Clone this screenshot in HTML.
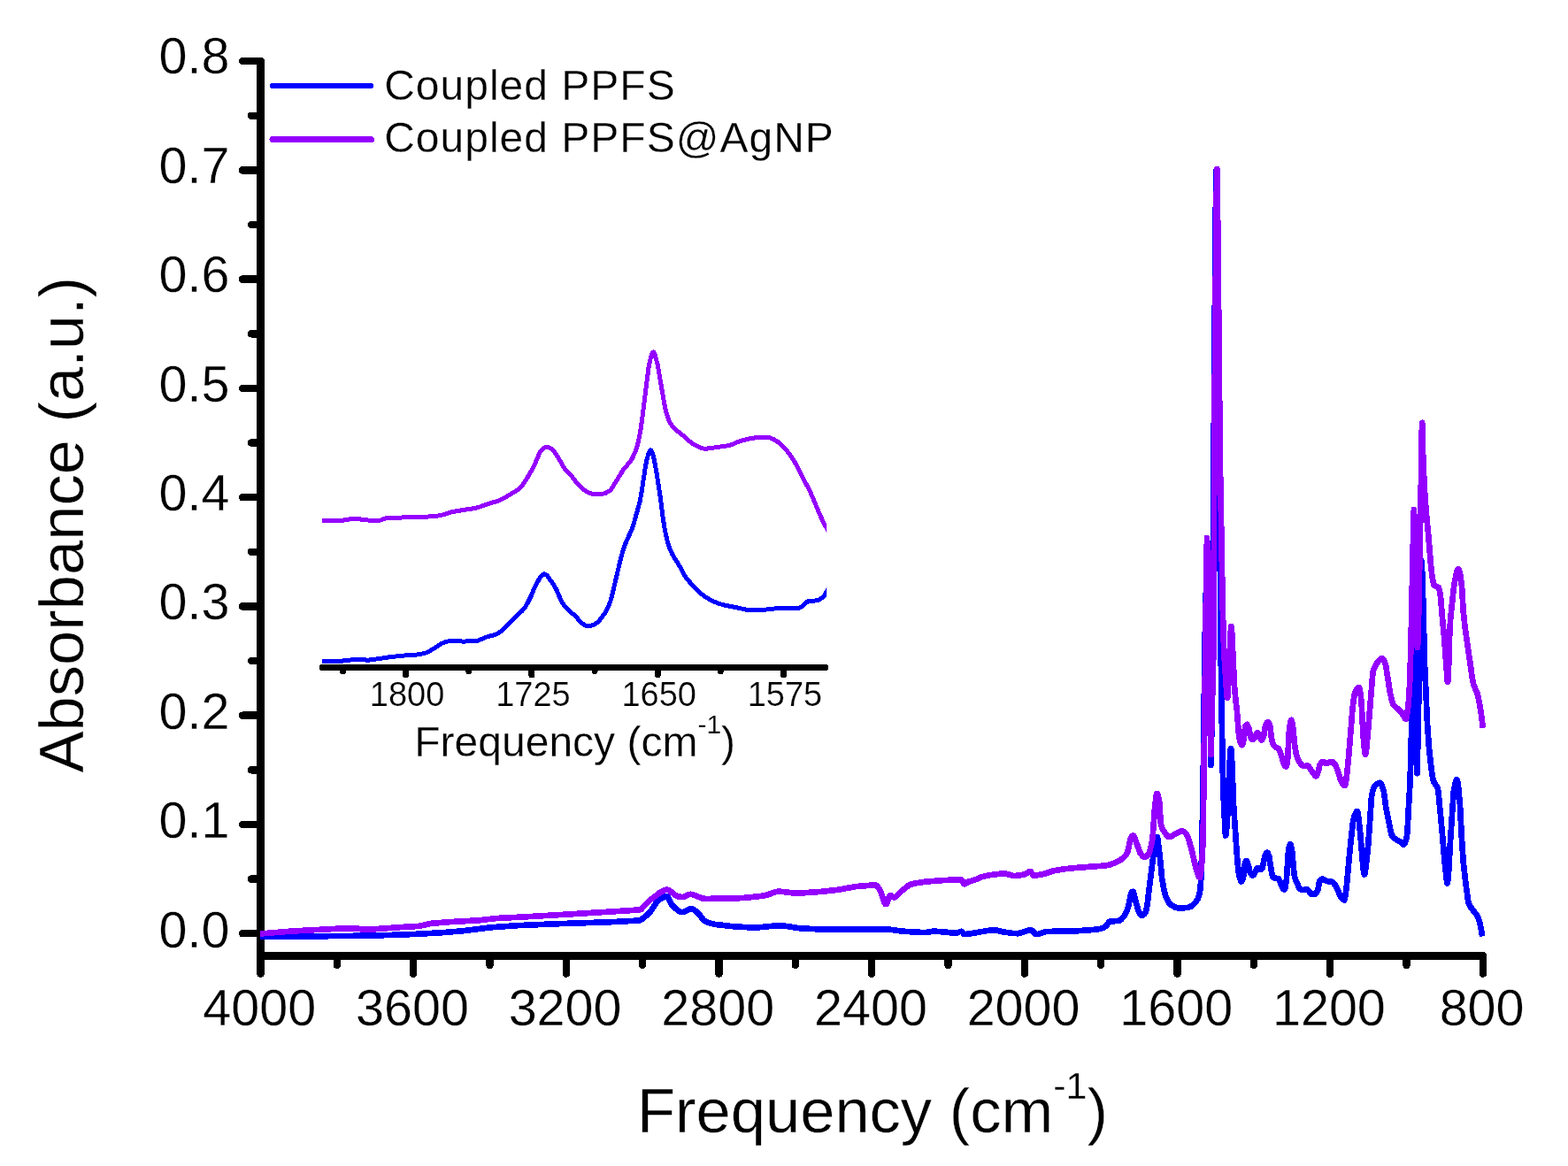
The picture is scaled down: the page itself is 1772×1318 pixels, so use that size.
<!DOCTYPE html>
<html lang="en"><head><meta charset="utf-8"><title>FTIR absorbance spectra</title>
<style>html,body{margin:0;padding:0;background:#fff}body{width:1772px;height:1318px;overflow:hidden}svg{display:block}text{font-family:"Liberation Sans", sans-serif;fill:#000;stroke:#fff;stroke-linejoin:round}</style></head><body>
<svg width="1772" height="1318" viewBox="0 0 1772 1318" role="img" aria-label="FTIR absorbance spectra of coupled PPFS and coupled PPFS@AgNP">
<rect width="1772" height="1318" fill="#fff"/>
<g stroke="#000" stroke-linecap="round" fill="none" shape-rendering="crispEdges">
<line x1="294.50" y1="69.12" x2="294.50" y2="1100.10" stroke-width="9"/>
<line x1="294.50" y1="1080.50" x2="1675.81" y2="1080.50" stroke-width="9"/>
<line x1="274.00" y1="1055.20" x2="294.50" y2="1055.20" stroke-width="8.5"/>
<line x1="284.00" y1="993.57" x2="294.50" y2="993.57" stroke-width="8.5"/>
<line x1="274.00" y1="931.94" x2="294.50" y2="931.94" stroke-width="8.5"/>
<line x1="284.00" y1="870.31" x2="294.50" y2="870.31" stroke-width="8.5"/>
<line x1="274.00" y1="808.68" x2="294.50" y2="808.68" stroke-width="8.5"/>
<line x1="284.00" y1="747.05" x2="294.50" y2="747.05" stroke-width="8.5"/>
<line x1="274.00" y1="685.42" x2="294.50" y2="685.42" stroke-width="8.5"/>
<line x1="284.00" y1="623.79" x2="294.50" y2="623.79" stroke-width="8.5"/>
<line x1="274.00" y1="562.16" x2="294.50" y2="562.16" stroke-width="8.5"/>
<line x1="284.00" y1="500.53" x2="294.50" y2="500.53" stroke-width="8.5"/>
<line x1="274.00" y1="438.90" x2="294.50" y2="438.90" stroke-width="8.5"/>
<line x1="284.00" y1="377.27" x2="294.50" y2="377.27" stroke-width="8.5"/>
<line x1="274.00" y1="315.64" x2="294.50" y2="315.64" stroke-width="8.5"/>
<line x1="284.00" y1="254.01" x2="294.50" y2="254.01" stroke-width="8.5"/>
<line x1="274.00" y1="192.38" x2="294.50" y2="192.38" stroke-width="8.5"/>
<line x1="284.00" y1="130.75" x2="294.50" y2="130.75" stroke-width="8.5"/>
<line x1="274.00" y1="69.12" x2="294.50" y2="69.12" stroke-width="8.5"/>
<line x1="294.50" y1="1080.50" x2="294.50" y2="1100.60" stroke-width="8.5"/>
<line x1="380.83" y1="1080.50" x2="380.83" y2="1091.00" stroke-width="8.5"/>
<line x1="467.16" y1="1080.50" x2="467.16" y2="1100.60" stroke-width="8.5"/>
<line x1="553.50" y1="1080.50" x2="553.50" y2="1091.00" stroke-width="8.5"/>
<line x1="639.83" y1="1080.50" x2="639.83" y2="1100.60" stroke-width="8.5"/>
<line x1="726.16" y1="1080.50" x2="726.16" y2="1091.00" stroke-width="8.5"/>
<line x1="812.49" y1="1080.50" x2="812.49" y2="1100.60" stroke-width="8.5"/>
<line x1="898.82" y1="1080.50" x2="898.82" y2="1091.00" stroke-width="8.5"/>
<line x1="985.16" y1="1080.50" x2="985.16" y2="1100.60" stroke-width="8.5"/>
<line x1="1071.49" y1="1080.50" x2="1071.49" y2="1091.00" stroke-width="8.5"/>
<line x1="1157.82" y1="1080.50" x2="1157.82" y2="1100.60" stroke-width="8.5"/>
<line x1="1244.15" y1="1080.50" x2="1244.15" y2="1091.00" stroke-width="8.5"/>
<line x1="1330.48" y1="1080.50" x2="1330.48" y2="1100.60" stroke-width="8.5"/>
<line x1="1416.82" y1="1080.50" x2="1416.82" y2="1091.00" stroke-width="8.5"/>
<line x1="1503.15" y1="1080.50" x2="1503.15" y2="1100.60" stroke-width="8.5"/>
<line x1="1589.48" y1="1080.50" x2="1589.48" y2="1091.00" stroke-width="8.5"/>
<line x1="1675.81" y1="1080.50" x2="1675.81" y2="1100.60" stroke-width="8.5"/>
</g>
<defs><clipPath id="plotclip"><rect x="293.8" y="0" width="1396.2" height="1318"/></clipPath><clipPath id="insetclip"><rect x="364.0" y="0" width="570.2" height="1318"/></clipPath></defs>
<g fill="none" stroke-linejoin="round" stroke-linecap="butt" shape-rendering="crispEdges">
<path d="M293.8,1059.0 L421.6,1057.6 L467.8,1056.0 L500.8,1054.1 L524.8,1052.1 L553.6,1048.4 L584.2,1046.2 L627.4,1044.3 L688.7,1042.3 L714.5,1040.9 L721.7,1040.7 L724.1,1039.8 L727.7,1037.4 L734.3,1031.3 L737.9,1026.1 L742.1,1019.6 L743.9,1017.7 L748.7,1014.7 L751.7,1013.5 L753.5,1013.3 L754.1,1013.5 L755.3,1014.9 L758.9,1022.2 L760.1,1023.8 L765.5,1028.6 L768.5,1030.5 L770.9,1031.1 L772.7,1030.9 L775.7,1029.6 L779.3,1027.7 L781.4,1027.3 L782.9,1027.6 L785.3,1029.1 L790.1,1033.5 L794.9,1039.8 L796.7,1041.3 L802.1,1043.5 L808.1,1044.9 L827.3,1047.1 L844.7,1048.2 L857.9,1048.3 L870.5,1047.0 L879.5,1046.3 L886.1,1046.6 L904.1,1049.3 L931.1,1050.7 L948.5,1050.8 L970.7,1050.2 L1002.5,1050.3 L1011.5,1051.5 L1020.5,1052.7 L1040.3,1053.9 L1047.5,1053.9 L1054.7,1052.7 L1061.9,1053.0 L1078.1,1054.6 L1081.7,1054.6 L1085.3,1052.9 L1086.5,1052.8 L1087.7,1053.9 L1089.5,1055.9 L1091.3,1056.0 L1097.9,1055.1 L1115.9,1052.0 L1123.1,1051.3 L1126.1,1051.5 L1134.5,1053.6 L1145.3,1055.0 L1150.1,1055.2 L1153.7,1054.3 L1162.7,1051.6 L1165.3,1051.3 L1166.3,1051.7 L1169.9,1055.5 L1171.1,1056.1 L1174.1,1055.7 L1181.3,1053.2 L1186.1,1052.9 L1214.3,1052.5 L1236.5,1050.9 L1243.7,1049.8 L1247.3,1048.5 L1249.7,1047.1 L1253.3,1042.2 L1254.2,1041.7 L1264.7,1040.7 L1266.5,1039.8 L1269.5,1036.7 L1271.3,1034.2 L1273.7,1028.8 L1275.5,1023.4 L1277.9,1011.0 L1278.8,1008.7 L1279.7,1008.0 L1280.5,1007.8 L1280.9,1008.3 L1283.9,1020.5 L1286.3,1028.8 L1288.1,1032.4 L1289.3,1034.1 L1289.9,1034.7 L1290.6,1034.9 L1291.7,1034.5 L1293.5,1032.8 L1294.9,1030.7 L1295.3,1029.5 L1296.5,1022.7 L1303.7,964.1 L1306.1,950.0 L1306.7,947.5 L1307.3,946.1 L1307.6,946.0 L1307.9,946.5 L1308.5,949.3 L1310.9,969.1 L1313.3,994.1 L1315.7,1007.1 L1317.5,1013.3 L1319.9,1018.5 L1321.7,1021.3 L1323.6,1023.1 L1327.7,1025.4 L1330.8,1026.3 L1337.4,1026.3 L1343.4,1025.7 L1345.8,1024.7 L1348.8,1022.4 L1351.8,1019.2 L1353.6,1016.0 L1355.4,1010.5 L1356.0,1008.0 L1356.6,1003.4 L1357.5,990.0 L1359.0,921.3 L1360.2,842.7 L1361.5,730.0 L1363.8,629.3 L1364.5,613.0 L1365.0,617.4 L1366.2,657.7 L1367.4,771.6 L1368.0,847.6 L1368.3,865.0 L1368.6,861.7 L1369.8,801.3 L1370.4,740.0 L1372.2,418.9 L1374.0,219.8 L1374.6,192.4 L1375.2,230.5 L1378.2,575.0 L1380.0,767.1 L1381.8,872.2 L1383.0,908.5 L1384.8,942.0 L1385.2,944.5 L1386.0,939.8 L1387.2,922.3 L1389.2,870.0 L1390.2,853.2 L1390.8,846.7 L1391.0,846.0 L1391.4,847.5 L1392.6,867.1 L1393.8,905.4 L1395.0,924.6 L1398.3,972.4 L1399.8,985.9 L1400.6,990.7 L1402.2,995.6 L1402.9,996.4 L1403.4,996.1 L1404.6,992.8 L1405.2,990.4 L1406.4,978.7 L1407.0,975.5 L1407.6,974.0 L1408.2,973.1 L1408.5,973.0 L1408.8,973.1 L1409.4,974.0 L1411.2,979.4 L1412.4,985.0 L1413.1,987.2 L1414.8,989.1 L1416.0,989.5 L1416.6,989.1 L1419.6,983.4 L1420.8,981.2 L1421.4,981.0 L1423.8,982.7 L1425.6,982.4 L1426.2,982.1 L1426.8,980.6 L1429.2,968.2 L1429.8,966.4 L1431.0,964.3 L1431.9,963.6 L1432.8,964.4 L1434.2,967.9 L1437.6,989.2 L1438.2,990.8 L1440.0,992.4 L1441.8,992.8 L1444.4,992.9 L1444.8,993.1 L1446.0,995.5 L1449.0,1002.9 L1450.2,1004.6 L1451.4,1005.5 L1451.6,1005.5 L1452.0,1005.1 L1452.6,1003.0 L1453.8,995.0 L1455.6,967.4 L1456.4,958.8 L1457.4,955.4 L1458.1,954.5 L1458.6,955.0 L1459.8,959.9 L1460.4,964.2 L1462.2,984.5 L1463.2,991.8 L1464.6,995.7 L1466.4,999.5 L1468.2,1004.0 L1468.9,1004.9 L1471.8,1005.8 L1473.6,1006.0 L1476.8,1004.9 L1477.8,1005.6 L1480.8,1009.6 L1482.0,1010.7 L1483.2,1010.9 L1486.2,1010.5 L1487.4,1009.4 L1489.2,1006.0 L1489.8,1003.9 L1491.1,996.4 L1492.8,994.3 L1494.0,993.6 L1495.2,993.6 L1498.8,995.9 L1500.6,996.2 L1504.8,996.5 L1506.6,997.7 L1509.6,1001.3 L1512.1,1006.6 L1514.4,1012.3 L1516.2,1015.1 L1518.0,1016.8 L1519.2,1017.4 L1519.8,1016.0 L1521.6,1003.7 L1526.4,951.9 L1528.8,931.0 L1530.0,924.4 L1531.8,919.5 L1533.0,917.5 L1533.9,916.9 L1534.2,917.2 L1534.8,919.7 L1537.2,941.5 L1539.6,970.8 L1540.8,983.0 L1541.4,987.2 L1542.0,988.5 L1542.6,987.0 L1543.8,978.9 L1546.2,955.2 L1548.6,921.4 L1549.8,902.8 L1550.4,898.3 L1551.6,892.9 L1552.8,889.9 L1554.6,887.3 L1556.4,885.8 L1558.2,885.0 L1559.4,884.8 L1560.0,885.2 L1561.2,886.9 L1563.0,891.6 L1563.7,894.0 L1564.8,901.2 L1566.0,911.0 L1572.0,941.5 L1572.9,944.2 L1575.0,946.9 L1578.0,949.1 L1582.2,951.1 L1585.2,954.4 L1586.0,954.7 L1587.0,954.1 L1588.2,951.9 L1590.0,945.4 L1590.6,938.0 L1591.8,913.9 L1593.3,888.5 L1594.3,860.0 L1596.6,752.9 L1597.8,729.3 L1598.3,726.0 L1599.0,757.8 L1600.8,863.8 L1601.4,874.2 L1602.0,855.5 L1606.2,638.9 L1606.5,634.0 L1606.8,636.0 L1608.0,669.7 L1610.0,750.0 L1613.0,818.0 L1615.2,848.0 L1617.6,869.3 L1619.4,880.5 L1620.6,884.4 L1621.8,886.5 L1623.6,888.9 L1624.8,891.6 L1625.4,894.0 L1629.6,938.7 L1632.6,973.9 L1635.0,996.6 L1635.6,998.4 L1636.2,995.6 L1637.4,982.1 L1638.6,957.4 L1641.6,911.4 L1642.8,894.7 L1644.6,885.0 L1645.2,882.9 L1645.8,881.6 L1646.4,881.2 L1647.0,882.6 L1648.2,890.2 L1650.0,909.8 L1651.8,946.4 L1653.7,973.8 L1656.0,995.1 L1659.0,1017.7 L1659.8,1021.0 L1661.4,1024.5 L1663.8,1027.8 L1666.8,1031.5 L1669.2,1034.8 L1670.4,1037.2 L1672.2,1042.9 L1674.0,1050.8 L1675.2,1058.5" stroke="#0000ff" stroke-width="6.7" clip-path="url(#plotclip)"/>
<path d="M293.8,1055.5 L330.4,1052.5 L380.2,1049.8 L401.8,1049.4 L406.6,1050.0 L411.4,1050.7 L424.0,1050.2 L452.2,1048.1 L472.0,1047.0 L477.4,1046.1 L487.0,1043.9 L503.8,1042.4 L541.1,1040.3 L561.5,1038.0 L593.3,1036.4 L632.3,1034.1 L711.5,1029.2 L721.7,1028.5 L724.3,1028.1 L729.5,1022.4 L735.5,1016.8 L746.9,1008.1 L750.5,1006.3 L752.9,1005.7 L754.7,1005.9 L757.1,1007.0 L763.7,1012.2 L766.2,1013.3 L770.9,1014.1 L772.7,1013.9 L778.7,1011.0 L780.5,1010.8 L783.5,1011.3 L789.5,1013.8 L793.7,1015.5 L796.7,1015.9 L826.1,1015.7 L843.5,1014.7 L863.3,1012.5 L868.1,1011.2 L875.9,1008.4 L879.5,1007.7 L884.9,1008.0 L896.3,1009.4 L909.5,1009.2 L928.7,1007.8 L947.9,1005.7 L966.5,1002.2 L983.9,1000.7 L990.0,1000.6 L991.2,1001.4 L993.6,1005.0 L995.4,1008.3 L999.6,1020.4 L1000.2,1021.5 L1000.8,1022.1 L1001.4,1022.1 L1002.0,1021.4 L1003.8,1016.8 L1005.0,1013.6 L1005.6,1012.5 L1006.2,1012.1 L1007.4,1012.5 L1009.8,1014.4 L1011.0,1014.5 L1012.8,1013.5 L1017.6,1008.3 L1026.0,1001.5 L1029.0,999.8 L1035.6,998.2 L1046.4,996.6 L1067.4,995.0 L1084.2,994.3 L1086.6,994.4 L1087.8,996.2 L1089.0,998.5 L1089.6,999.2 L1090.2,999.4 L1091.4,998.8 L1093.8,996.8 L1101.6,994.6 L1109.4,991.2 L1117.8,989.3 L1129.2,987.8 L1136.4,987.5 L1140.0,988.5 L1144.2,989.8 L1147.2,990.0 L1153.8,989.2 L1158.6,988.1 L1163.4,985.2 L1164.6,985.0 L1165.2,985.5 L1167.0,988.9 L1167.6,989.6 L1170.6,989.6 L1179.6,988.0 L1191.0,984.2 L1202.4,982.3 L1218.0,980.8 L1247.4,978.6 L1253.4,977.7 L1258.8,975.8 L1266.0,972.2 L1269.6,969.7 L1272.6,966.3 L1273.8,964.5 L1275.0,960.3 L1277.4,949.0 L1278.6,946.4 L1279.8,944.6 L1280.5,944.3 L1281.0,944.6 L1282.2,946.9 L1285.8,956.8 L1288.2,963.5 L1290.6,967.0 L1292.4,968.7 L1293.6,968.9 L1295.4,968.1 L1297.8,965.8 L1299.0,963.2 L1300.8,956.7 L1302.6,946.9 L1303.8,930.5 L1305.0,913.7 L1306.8,899.1 L1307.4,897.0 L1307.6,896.9 L1308.0,897.2 L1308.6,898.6 L1310.1,905.4 L1311.8,930.8 L1312.8,934.6 L1314.0,937.4 L1318.2,943.9 L1320.0,945.7 L1321.2,946.0 L1323.6,945.4 L1331.4,941.0 L1333.8,939.7 L1335.6,939.3 L1337.4,939.9 L1339.8,941.8 L1341.0,943.1 L1342.8,947.2 L1346.4,959.2 L1351.2,980.4 L1354.2,990.0 L1354.8,991.2 L1355.6,991.8 L1356.0,991.3 L1356.6,988.8 L1357.8,979.3 L1358.5,972.0 L1359.0,963.0 L1359.8,938.0 L1360.8,845.3 L1362.6,706.7 L1363.2,647.8 L1364.0,608.0 L1364.4,619.5 L1366.8,767.0 L1368.0,839.7 L1368.5,853.0 L1371.3,740.0 L1372.8,431.2 L1374.6,230.9 L1375.3,191.0 L1375.8,212.0 L1377.6,393.7 L1378.8,517.9 L1381.8,687.2 L1383.0,730.9 L1384.2,752.8 L1386.6,787.1 L1387.0,789.0 L1387.2,788.3 L1388.4,771.1 L1390.2,724.3 L1390.8,713.9 L1391.5,708.0 L1392.0,712.3 L1393.8,749.2 L1395.0,775.5 L1396.2,788.4 L1398.0,804.4 L1399.8,828.4 L1400.4,833.2 L1401.6,838.6 L1402.8,841.6 L1403.4,842.1 L1404.0,841.5 L1405.2,837.8 L1405.8,835.1 L1407.0,823.1 L1407.6,820.6 L1408.2,819.5 L1409.1,818.8 L1409.4,818.9 L1410.0,819.8 L1411.4,823.3 L1413.1,832.4 L1414.2,835.1 L1415.1,835.9 L1416.0,835.6 L1418.2,833.6 L1420.2,829.1 L1420.8,828.2 L1421.1,828.1 L1421.4,828.3 L1425.0,836.0 L1425.6,836.4 L1426.2,836.1 L1427.4,834.0 L1428.1,832.4 L1429.2,825.3 L1430.2,819.9 L1431.6,817.2 L1432.2,816.5 L1433.0,816.2 L1433.4,816.4 L1434.0,817.4 L1435.3,821.1 L1437.0,834.9 L1438.2,839.6 L1439.4,842.3 L1441.2,844.4 L1443.0,845.4 L1445.0,846.3 L1446.1,848.0 L1448.5,855.1 L1450.3,862.1 L1452.1,865.5 L1452.7,866.2 L1453.5,866.6 L1453.9,866.1 L1454.5,863.2 L1455.2,857.5 L1456.9,826.8 L1458.1,817.8 L1458.7,814.9 L1459.3,813.9 L1459.9,815.0 L1461.1,821.1 L1462.9,840.2 L1464.7,851.9 L1465.9,855.9 L1468.9,862.0 L1470.7,864.6 L1473.1,865.7 L1474.9,866.0 L1477.4,865.2 L1478.5,865.8 L1483.3,872.9 L1486.3,876.9 L1487.1,877.4 L1487.5,877.3 L1488.7,875.2 L1489.9,871.8 L1491.1,865.9 L1491.7,864.2 L1493.5,861.8 L1494.7,861.0 L1495.3,860.9 L1496.5,861.5 L1498.3,862.8 L1499.5,863.0 L1501.9,861.9 L1504.3,860.9 L1505.5,861.1 L1507.3,862.6 L1509.1,864.8 L1510.9,868.9 L1513.3,876.2 L1514.8,881.0 L1517.5,886.0 L1518.7,887.4 L1519.9,888.0 L1520.5,886.9 L1521.7,879.1 L1524.1,856.0 L1528.5,801.2 L1530.1,788.7 L1530.7,785.3 L1531.3,783.0 L1533.1,779.5 L1534.3,778.0 L1535.5,777.2 L1536.1,777.2 L1536.7,778.9 L1537.9,787.4 L1538.7,795.5 L1540.4,829.7 L1542.1,848.8 L1542.7,852.3 L1543.0,852.9 L1543.3,852.6 L1543.9,849.7 L1545.7,830.5 L1551.1,764.6 L1551.8,759.1 L1552.9,755.7 L1556.5,749.0 L1559.5,745.4 L1560.7,744.3 L1561.5,744.1 L1562.5,744.5 L1563.7,746.1 L1565.5,750.0 L1566.1,752.2 L1570.9,782.9 L1573.3,793.3 L1574.6,796.7 L1576.3,798.6 L1579.9,801.4 L1584.2,805.8 L1587.7,812.0 L1588.3,812.6 L1588.9,812.8 L1589.5,811.4 L1590.7,803.7 L1591.9,792.6 L1593.1,772.8 L1594.3,735.6 L1597.3,595.5 L1597.9,576.0 L1598.5,588.6 L1600.9,705.6 L1601.5,726.4 L1601.9,732.0 L1602.1,730.8 L1603.3,690.0 L1605.1,594.8 L1606.9,484.2 L1607.2,477.8 L1607.5,483.4 L1608.3,520.0 L1609.9,553.3 L1611.7,578.4 L1614.1,603.4 L1617.1,639.4 L1618.4,651.0 L1620.1,660.1 L1620.7,661.5 L1621.9,662.4 L1624.9,663.5 L1625.8,664.3 L1626.7,666.7 L1628.0,674.0 L1630.3,702.1 L1632.1,720.6 L1635.7,769.9 L1636.0,771.0 L1636.3,769.6 L1637.5,745.0 L1638.3,713.8 L1639.3,698.1 L1642.9,664.3 L1644.1,656.5 L1646.5,645.7 L1647.1,644.0 L1647.7,643.1 L1648.0,643.0 L1648.3,643.1 L1648.9,644.2 L1650.1,649.2 L1652.0,662.6 L1653.7,691.0 L1655.5,708.2 L1659.1,733.4 L1662.1,754.2 L1663.9,767.3 L1665.1,773.1 L1666.9,777.8 L1668.7,781.4 L1669.9,785.1 L1671.7,793.5 L1674.1,808.3 L1675.9,822.8" stroke="#9400ff" stroke-width="6.7" clip-path="url(#plotclip)"/>
<path d="M360.2,747.0 L386.0,747.2 L399.8,745.6 L416.6,746.1 L424.4,745.1 L440.0,742.8 L454.4,741.2 L470.7,740.1 L478.5,738.7 L482.7,737.5 L486.9,735.2 L498.9,727.4 L505.5,725.1 L509.7,724.3 L516.3,724.7 L523.5,725.1 L537.9,724.6 L540.9,723.9 L549.9,720.0 L560.1,717.2 L563.1,715.9 L566.7,713.1 L576.9,703.3 L584.7,695.4 L590.1,690.4 L593.1,686.8 L596.7,680.7 L600.3,673.4 L604.5,663.4 L608.7,655.6 L611.7,651.2 L613.5,649.6 L615.3,648.8 L616.5,649.1 L618.9,651.2 L626.1,661.7 L629.1,667.1 L633.9,678.5 L636.3,682.6 L639.9,687.1 L644.1,691.2 L650.2,696.1 L654.4,701.1 L657.4,704.4 L659.8,706.0 L662.8,707.4 L665.2,707.7 L668.8,707.0 L671.8,706.0 L674.8,703.9 L678.4,700.1 L683.8,692.8 L686.8,687.3 L689.8,679.9 L692.2,670.9 L701.2,632.6 L704.2,621.5 L706.6,615.0 L714.4,597.3 L716.8,589.8 L721.0,574.7 L723.4,565.8 L725.2,555.4 L729.4,527.5 L731.2,518.7 L733.1,512.3 L734.2,509.7 L734.8,508.8 L735.4,508.8 L736.0,509.5 L737.8,513.8 L739.6,521.1 L742.0,534.6 L746.2,561.6 L749.2,585.8 L751.6,600.3 L754.0,611.0 L757.0,620.3 L760.0,627.1 L763.6,633.0 L768.4,640.4 L773.8,650.9 L776.8,655.1 L782.2,660.9 L793.6,672.2 L797.2,674.9 L805.0,679.2 L812.2,682.2 L819.4,684.2 L835.6,687.4 L842.9,689.1 L853.7,689.8 L860.9,689.6 L877.7,687.7 L903.5,687.1 L905.3,686.2 L911.3,680.8 L913.2,679.9 L923.4,678.7 L926.3,677.6 L929.3,675.6 L931.1,673.9 L937.1,663.8" stroke="#0000ff" stroke-width="5" clip-path="url(#insetclip)"/>
<path d="M360.2,588.3 L385.4,588.6 L391.4,587.5 L396.8,586.6 L407.6,587.0 L412.4,587.5 L417.8,588.3 L429.2,588.3 L432.2,587.3 L435.8,585.9 L442.4,585.4 L487.5,583.9 L495.9,582.9 L502.5,581.4 L510.3,578.7 L524.1,576.4 L536.7,574.5 L542.1,573.0 L552.3,569.3 L563.1,566.2 L567.9,564.0 L579.9,556.9 L584.7,554.0 L587.7,551.4 L591.9,546.4 L594.9,541.8 L602.7,528.4 L609.9,511.9 L611.7,508.8 L614.7,506.4 L617.1,505.4 L618.9,505.4 L621.3,506.3 L624.3,508.3 L627.3,511.9 L630.3,516.4 L637.5,528.8 L639.9,531.8 L644.1,535.9 L650.8,544.5 L656.8,551.2 L660.4,554.1 L665.8,557.3 L668.2,558.0 L682.0,558.0 L685.0,557.1 L689.5,554.2 L691.0,552.7 L694.6,546.8 L704.2,531.3 L707.8,526.9 L712.0,522.1 L715.0,517.2 L718.0,510.4 L720.4,503.1 L722.8,492.5 L724.6,481.9 L733.0,415.6 L734.8,406.9 L736.6,400.3 L737.2,398.9 L737.8,398.1 L738.4,397.9 L739.0,398.5 L740.2,401.3 L743.2,412.4 L751.0,457.7 L752.8,465.8 L755.8,474.9 L757.8,479.0 L760.6,482.7 L765.4,487.2 L772.6,492.8 L779.2,498.9 L784.6,502.7 L791.8,506.0 L795.4,507.1 L799.0,507.1 L808.0,505.9 L822.7,503.8 L827.2,502.4 L836.2,498.7 L847.1,495.8 L857.3,494.3 L862.7,494.2 L869.9,494.9 L873.5,496.2 L879.5,499.8 L883.1,502.9 L889.7,510.2 L895.1,517.4 L899.3,524.3 L907.7,541.2 L914.3,553.0 L918.5,562.5 L925.7,579.9 L930.5,590.4 L937.1,602.5" stroke="#9400ff" stroke-width="5" clip-path="url(#insetclip)"/>
</g>
<g font-size="57.5px" stroke-width="0.35">
<text x="259.4" y="1070.8" text-anchor="end">0.0</text>
<text x="259.4" y="947.3" text-anchor="end">0.1</text>
<text x="259.4" y="823.9" text-anchor="end">0.2</text>
<text x="259.4" y="700.4" text-anchor="end">0.3</text>
<text x="259.4" y="577.0" text-anchor="end">0.4</text>
<text x="259.4" y="453.5" text-anchor="end">0.5</text>
<text x="259.4" y="330.0" text-anchor="end">0.6</text>
<text x="259.4" y="206.6" text-anchor="end">0.7</text>
<text x="259.4" y="83.1" text-anchor="end">0.8</text>
<text x="293.3" y="1159.3" text-anchor="middle">4000</text>
<text x="466.0" y="1159.3" text-anchor="middle">3600</text>
<text x="638.6" y="1159.3" text-anchor="middle">3200</text>
<text x="811.3" y="1159.3" text-anchor="middle">2800</text>
<text x="984.0" y="1159.3" text-anchor="middle">2400</text>
<text x="1156.6" y="1159.3" text-anchor="middle">2000</text>
<text x="1329.3" y="1159.3" text-anchor="middle">1600</text>
<text x="1501.9" y="1159.3" text-anchor="middle">1200</text>
<text x="1674.6" y="1159.3" text-anchor="middle">800</text>
</g>
<text x="720" y="1279.7" font-size="70.5px" stroke-width="0.42" letter-spacing="0">Frequency (cm<tspan font-size="43px" stroke-width="0.26" dy="-38">-1</tspan><tspan dy="38">)</tspan></text>
<text transform="translate(94.4,873.4) rotate(-90)" font-size="70.5px" stroke-width="0.42" letter-spacing="0">Absorbance (a.u.)</text>
<g stroke-linecap="round" shape-rendering="crispEdges">
<line x1="308" y1="97" x2="419.5" y2="97" stroke="#0000ff" stroke-width="6"/>
<line x1="308" y1="157.5" x2="419.5" y2="157.5" stroke="#9400ff" stroke-width="7"/>
</g>
<g font-size="48px" stroke-width="0.29" letter-spacing="1.0">
<text x="434.2" y="112.5">Coupled PPFS</text>
<text x="434.2" y="172.3">Coupled PPFS@AgNP</text>
</g>
<g stroke="#000" stroke-linecap="round" fill="none" shape-rendering="crispEdges">
<line x1="364.3" y1="754.5" x2="932.8" y2="754.5" stroke-width="7"/>
<line x1="387.44" y1="754.5" x2="387.44" y2="758.70" stroke-width="7"/>
<line x1="458.60" y1="754.5" x2="458.60" y2="762.90" stroke-width="7"/>
<line x1="529.76" y1="754.5" x2="529.76" y2="758.70" stroke-width="7"/>
<line x1="600.91" y1="754.5" x2="600.91" y2="762.90" stroke-width="7"/>
<line x1="672.07" y1="754.5" x2="672.07" y2="758.70" stroke-width="7"/>
<line x1="743.23" y1="754.5" x2="743.23" y2="762.90" stroke-width="7"/>
<line x1="814.38" y1="754.5" x2="814.38" y2="758.70" stroke-width="7"/>
<line x1="885.54" y1="754.5" x2="885.54" y2="762.90" stroke-width="7"/>
</g>
<g font-size="38px" stroke-width="0.23">
<text x="460.1" y="798.2" text-anchor="middle">1800</text>
<text x="602.4" y="798.2" text-anchor="middle">1725</text>
<text x="744.7" y="798.2" text-anchor="middle">1650</text>
<text x="887.0" y="798.2" text-anchor="middle">1575</text>
</g>
<text x="468.3" y="855.0" font-size="48px" stroke-width="0.29" letter-spacing="0">Frequency (cm<tspan font-size="30px" stroke-width="0.18" dy="-25.8">-1</tspan><tspan dy="25.8">)</tspan></text>
</svg></body></html>
